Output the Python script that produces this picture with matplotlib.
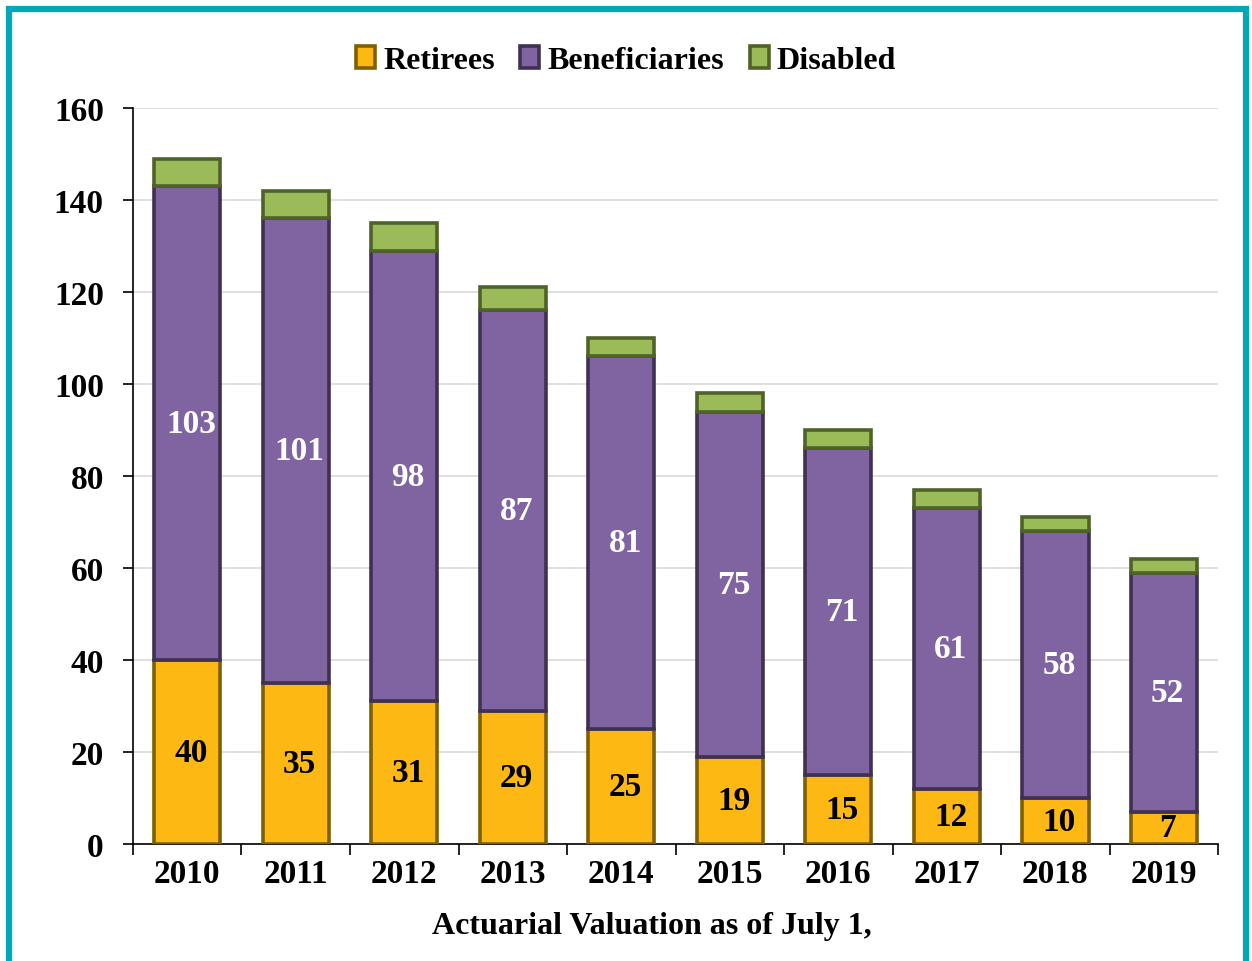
import numpy as np
import matplotlib
matplotlib.use('Agg')
import matplotlib.pyplot as plt
from matplotlib.patches import Rectangle

years = ['2010', '2011', '2012', '2013', '2014', '2015', '2016', '2017', '2018', '2019']
retirees = [40, 35, 31, 29, 25, 19, 15, 12, 10, 7]
beneficiaries = [103, 101, 98, 87, 81, 75, 71, 61, 58, 52]
disabled = [6, 6, 6, 5, 4, 4, 4, 4, 3, 3]

plt.rcParams['font.family'] = ['Liberation Serif', 'DejaVu Serif']
plt.rcParams['font.weight'] = 'bold'
fs = 24

fig = plt.figure(figsize=(12.52, 9.62), dpi=100)
ax = fig.add_axes([0.1062, 0.1216, 0.8668, 0.7651])

x = np.arange(len(years))
w = 0.61
lw = 2.6
ret = np.array(retirees)
ben = np.array(beneficiaries)
dis = np.array(disabled)

b1 = ax.bar(x, ret, w, color='#FDB813', edgecolor='#7F6000', linewidth=lw,
            label='Retirees', zorder=3)
b2 = ax.bar(x, ben, w, bottom=ret, color='#8064A2', edgecolor='#3F3151',
            linewidth=lw, label='Beneficiaries', zorder=3)
b3 = ax.bar(x, dis, w, bottom=ret + ben, color='#9BBB59', edgecolor='#4F6228',
            linewidth=lw, label='Disabled', zorder=3)

for i in range(len(years)):
    ax.text(x[i] + 0.035, ret[i] / 2, str(ret[i]), ha='center', va='center',
            fontsize=fs, fontweight='bold', color='black', zorder=4)
    ax.text(x[i] + 0.035, ret[i] + ben[i] / 2, str(ben[i]), ha='center',
            va='center', fontsize=fs, fontweight='bold', color='white', zorder=4)

ax.set_xlim(-0.5, len(years) - 0.5)
ax.set_ylim(0, 160)
ax.set_yticks(range(0, 161, 20))
ax.tick_params(axis='y', labelsize=fs, length=7, width=1.2, direction='out', pad=14)
ax.set_xticks(x)
ax.set_xticklabels(years)
ax.set_xticks(np.arange(-0.5, len(years), 1), minor=True)
ax.tick_params(axis='x', which='major', length=0, labelsize=fs, pad=10)
ax.tick_params(axis='x', which='minor', length=8, width=1.2, direction='out')
for lab in ax.get_xticklabels() + ax.get_yticklabels():
    lab.set_fontweight('bold')

ax.grid(axis='y', color='#D9D9D9', linewidth=1.2, zorder=0)
ax.set_axisbelow(True)
for s in ['top', 'right']:
    ax.spines[s].set_visible(False)
ax.spines['left'].set_linewidth(1.2)
ax.spines['bottom'].set_linewidth(1.2)

ax.set_xlabel('Actuarial Valuation as of July 1,', fontsize=23,
              fontweight='bold', labelpad=16)
ax.xaxis.label.set_x(0.478)

fig.legend(handles=[b1, b2, b3], loc='center', bbox_to_anchor=(0.5, 0.936),
           ncol=3, frameon=False, handlelength=0.6,
           handleheight=0.7, handletextpad=0.25, columnspacing=0.8,
           prop={'weight': 'bold', 'size': 23})

fig.patches.append(Rectangle((0.0075, -0.05), 0.9875, 1.04,
                             transform=fig.transFigure, fill=False,
                             edgecolor='#00A8B5', linewidth=4.5))

fig.savefig('out.png', dpi=100)
